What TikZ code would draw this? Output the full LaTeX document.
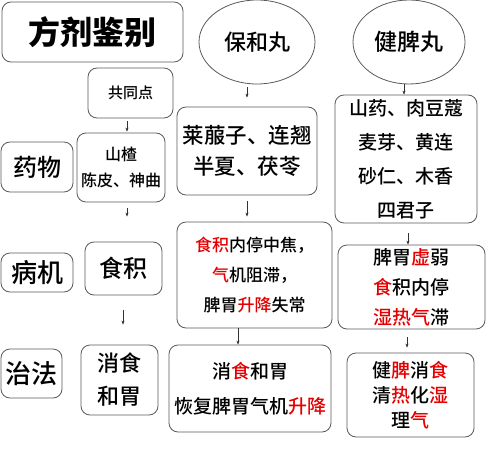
\documentclass[tikz,border=0pt]{standalone}
\usepackage{fontspec}
\setmainfont{Noto Sans CJK SC}
\newfontfamily\medfont{Noto Sans CJK SC Medium}
\usepackage{xcolor}
\usetikzlibrary{shapes.geometric, arrows.meta, positioning, calc}
\definecolor{hong}{RGB}{228,0,0}
\newcommand{\hong}[1]{\textcolor{hong}{#1}}
\newcommand{\fs}[2]{\fontsize{#1}{#2}\selectfont}

\begin{document}
\begin{tikzpicture}[x=1pt, y=-1pt,
    box/.style={draw=black!65, rounded corners=9pt, line width=0.8pt, align=center, inner sep=0pt},
    oval/.style={draw=black!65, ellipse, line width=0.8pt, inner sep=0pt},
    arr/.style={-{Stealth[length=4pt, width=3pt]}, line width=0.5pt, black!80},
]
    \useasboundingbox (0,0) rectangle (500,452);

    % top row
    \node[box, minimum width=181, minimum height=60, font=\fs{32}{36}\bfseries] (title) at (92.5,32) {方剂鉴别};
    \node[oval, minimum width=116, minimum height=84, font=\fs{22}{26}\medfont] (baohe) at (257,42) {保和丸};
    \node[oval, minimum width=112, minimum height=84, font=\fs{23}{26}\medfont] (jianpi) at (409,42) {健脾丸};

    % left column
    \node[box, minimum width=85, minimum height=50, font=\fs{15}{18}\medfont] (common) at (130.5,93) {共同点};
    \node[box, minimum width=72, minimum height=50, font=\fs{24}{28}\medfont] (yaowu) at (37,167) {药物};
    \node[box, minimum width=88, minimum height=69, font=\fs{16}{26}\medfont] (shazha) at (121,167.5) {山楂\\陈皮、神曲};
    \node[box, minimum width=72, minimum height=39, font=\fs{26}{30}\medfont] (bingji) at (37,272.5) {病机};
    \node[box, minimum width=77, minimum height=53, font=\fs{24}{28}\medfont] (shiji) at (123.5,268.5) {食积};
    \node[box, minimum width=61, minimum height=49, font=\fs{26}{30}\medfont] (zhifa) at (31.5,373.5) {治法};
    \node[box, minimum width=77, minimum height=70, font=\fs{22}{33}\medfont] (xiaoshi) at (119.5,380) {消食\\和胃};

    % middle column
    \node[box, minimum width=140, minimum height=88, font=\fs{21.5}{31}\medfont] (baoyao) at (247,151) {莱菔子、连翘\\半夏、茯苓};
    \node[box, minimum width=155, minimum height=106, font=\fs{17}{30}\medfont] (baobing) at (254.5,275)
        {\hong{食积}内停中焦，\\\hong{气}机阻滞，\\脾胃\hong{升降}失常};
    \node[box, minimum width=162, minimum height=87, font=\fs{19}{35}\medfont] (baozhi) at (250,388.5)
        {消\hong{食}和胃\\恢复脾胃气机\hong{升降}};

    % right column
    \node[box, minimum width=142, minimum height=128, font=\fs{19}{34}\medfont] (jianyao) at (406,159)
        {山药、肉豆蔻\\麦芽、黄连\\砂仁、木香\\四君子};
    \node[box, minimum width=147, minimum height=84, font=\fs{19}{30}\medfont] (jianbing) at (411.5,287)
        {脾胃\hong{虚}弱\\\hong{食}积内停\\\hong{湿热气}滞};
    \node[box, minimum width=127, minimum height=84, font=\fs{19}{25}\medfont] (jianzhi) at (410.5,395)
        {健\hong{脾}消\hong{食}\\清\hong{热}化\hong{湿}\\理\hong{气}};

    % arrows
    \draw[arr, shorten <=3pt, shorten >=1pt] ([xshift=-3.5pt]common.south) -- ([xshift=-3.5pt]common.south |- shazha.north);
    \draw[arr, shorten <=6pt, shorten >=25pt] ([xshift=6pt]shazha.south) -- ([xshift=6pt]shazha.south |- shiji.north);
    \draw[arr, shorten <=15pt, shorten >=20pt] ([xshift=-0.5pt]shiji.south) -- ([xshift=-0.5pt]shiji.south |- xiaoshi.north);
    \draw[arr, shorten <=3pt, shorten >=9pt] ([xshift=-10pt]baohe.south) -- ([xshift=-10pt]baohe.south |- baoyao.north);
    \draw[arr, shorten <=6pt, shorten >=5pt] (baoyao.south) -- (baoyao.south |- baobing.north);
    \draw[arr] ([xshift=-16.5pt]baobing.south) -- ([xshift=-16.5pt]baobing.south |- baozhi.north);
    \draw[arr] ([xshift=-5pt]jianpi.south) -- ([xshift=-5pt]jianpi.south |- jianyao.north);
    \draw[arr, shorten <=10pt] ([xshift=2pt]jianyao.south) -- ([xshift=2pt]jianyao.south |- jianbing.north);
    \draw[arr, shorten <=8pt, shorten >=5pt] ([xshift=-4.5pt]jianbing.south) -- ([xshift=-4.5pt]jianbing.south |- jianzhi.north);
\end{tikzpicture}
\end{document}
